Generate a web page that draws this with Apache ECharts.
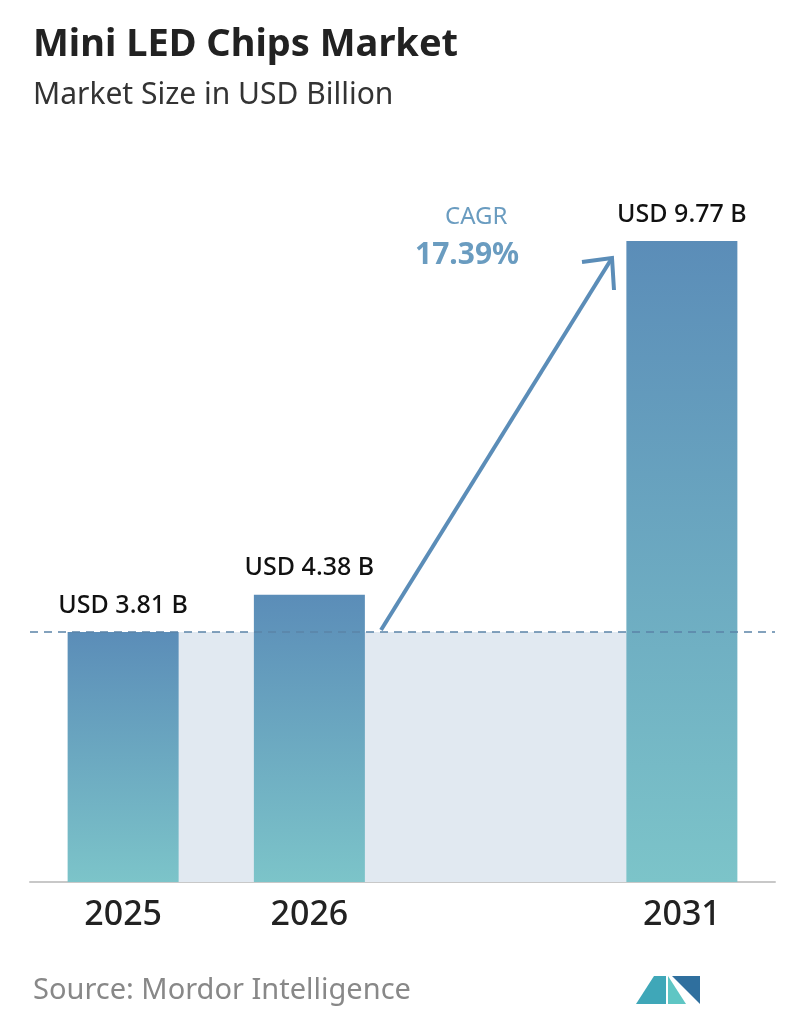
<!DOCTYPE html>
<html>
<head>
<meta charset="utf-8">
<script src="https://cdn.jsdelivr.net/npm/echarts@6/dist/echarts.min.js"></script>
<style>
  html, body { margin: 0; padding: 0; background: #fff; }
  #chart { width: 796px; height: 1034px; }
</style>
</head>
<body>
<div id="chart"></div>
<script>
var years = ['2025', '2026', '', '2031'];
var values = [3.81, 4.38, null, 9.77];
var labels = ['USD 3.81 B', 'USD 4.38 B', '', 'USD 9.77 B'];
var cagr = '17.39%';

var chart = echarts.init(document.getElementById('chart'));
var font = 'Noto Sans';

var option = {
    animation: false,
    grid: { left: 30, right: 21, top: 241, bottom: 152 },
    xAxis: {
        type: 'category',
        data: years,
        axisTick: { show: false },
        axisLine: { lineStyle: { color: '#c8c8c8', width: 2 } },
        axisLabel: { fontFamily: font, fontSize: 34, fontWeight: 500, color: '#222', margin: 16 }
    },
    yAxis: { type: 'value', min: 0, max: 9.77, show: false, splitLine: { show: false } },
    series: [{
        // shaded band between first and last bar, at the first bar's height
        type: 'custom',
        z: 1,
        silent: true,
        data: [[0, 3, values[0]]],
        renderItem: function (params, api) {
            var a = api.coord([api.value(0), api.value(2)]);
            var b = api.coord([api.value(1), 0]);
            return { type: 'rect', shape: { x: a[0], y: a[1], width: b[0] - a[0], height: b[1] - a[1] }, style: { fill: '#e1e9f1' } };
        }
    }, {
        type: 'bar',
        barWidth: 111,
        z: 3,
        data: values,
        itemStyle: {
            color: new echarts.graphic.LinearGradient(0, 0, 0, 1, [
                { offset: 0, color: '#5b8db8' },
                { offset: 1, color: '#7cc4c9' }
            ])
        },
        label: {
            show: true,
            position: 'top',
            distance: 14,
            fontFamily: font,
            fontSize: 25,
            fontWeight: 500,
            color: '#111',
            formatter: function (p) { return labels[p.dataIndex]; }
        },
        markLine: {
            silent: true,
            symbol: 'none',
            label: { show: false },
            lineStyle: { color: '#5b84a8', type: [8, 6], width: 1.5 },
            data: [{ yAxis: values[0] }]
        }
    }],
    graphic: [
        { type: 'text', left: 33, top: 26, style: { text: 'Mini LED Chips Market', fontFamily: font, fontSize: 38, fontWeight: 'bold', fill: '#222' } },
        { type: 'text', left: 33, top: 80, style: { text: 'Market Size in USD Billion', fontFamily: font, fontSize: 30, fill: '#333' } },
        { type: 'text', left: 33, top: 976, style: { text: 'Source: Mordor Intelligence', fontFamily: font, fontSize: 29, fill: '#888' } },
        { type: 'text', left: 445, top: 205, style: { text: 'CAGR', fontFamily: font, fontSize: 24, fill: '#6a9cc0' } },
        { type: 'text', left: 415, top: 240, style: { text: cagr, fontFamily: font, fontSize: 30, fontWeight: 'bold', fill: '#6a9cc0' } },
        { type: 'line', shape: { x1: 381, y1: 630, x2: 612, y2: 258 }, style: { stroke: '#5b8db8', lineWidth: 4 } },
        { type: 'polyline', shape: { points: [[582, 262], [612, 258], [614, 290]] }, style: { stroke: '#5b8db8', lineWidth: 4, fill: null } },
        { type: 'polygon', shape: { points: [[636, 1004], [654, 976], [666, 976], [666, 1004]] }, style: { fill: '#3fa7b8' } },
        { type: 'polygon', shape: { points: [[668, 1004], [668, 976], [686, 1004]] }, style: { fill: '#5fc6c4' } },
        { type: 'polygon', shape: { points: [[672, 976], [700, 976], [700, 1004]] }, style: { fill: '#2f6f9e' } }
    ]
};
chart.setOption(option);
</script>
</body>
</html>
